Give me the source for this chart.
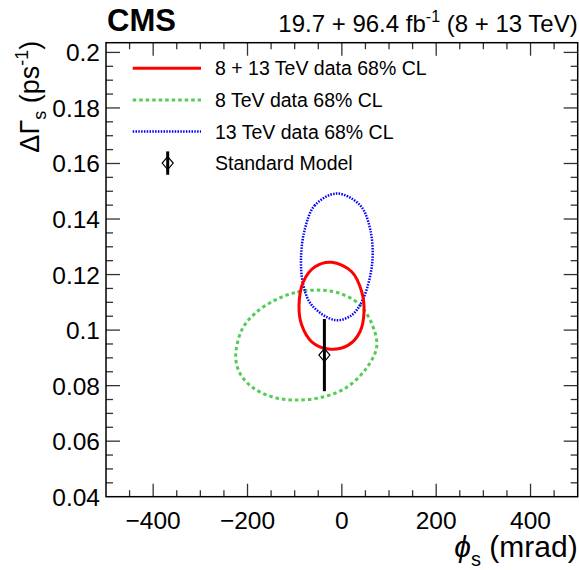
<!DOCTYPE html>
<html>
<head>
<meta charset="utf-8">
<script src="https://cdn.jsdelivr.net/npm/d3@7"></script>
<style>
  body { margin: 0; background: #fff; }
  text { font-family: 'Liberation Sans', Arial, Helvetica, sans-serif; fill: #000; }
</style>
</head>
<body>
<div id="chart"></div>
<script>
// contour points: [phi_s (mrad), delta Gamma_s (ps^-1)]
var combinedContour = [
  [-21.5, 0.1244], [20.9, 0.1210], [42.1, 0.1138], [47.0, 0.1066],
  [38.5, 0.0994], [13.7, 0.0946], [-28.7, 0.0932], [-63.9, 0.0958],
  [-85.1, 0.1018], [-90.8, 0.1090], [-81.7, 0.1174], [-56.9, 0.1228]
]
var run1Contour = [
  [-49.9, 0.1144], [-99.3, 0.1135], [-141.7, 0.1108], [-184.1, 0.1060],
  [-212.3, 0.1000], [-225.0, 0.0904], [-215.9, 0.0844], [-191.1, 0.0796],
  [-148.7, 0.0760], [-99.3, 0.0748], [-42.7, 0.0758], [6.7, 0.0790],
  [49.1, 0.0856], [73.9, 0.0940], [63.3, 0.1024], [34.9, 0.1096],
  [-7.5, 0.1134]
]
var run2Contour = [
  [-10.9, 0.1492], [-56.9, 0.1450], [-78.1, 0.1366], [-86.6, 0.1258],
  [-81.7, 0.1162], [-63.9, 0.1090], [-14.5, 0.1036], [20.9, 0.1054],
  [45.5, 0.1114], [64.6, 0.1246], [59.7, 0.1366], [38.5, 0.1450]
]
// standard model prediction
var smPhi = -37
var smGamma = 0.091
var smGammaErr = 0.013

var xTicks = [-400, -200, 0, 200, 400]
var yTicks = [0.04, 0.06, 0.08, 0.1, 0.12, 0.14, 0.16, 0.18, 0.2]
var legendLabels = ['8 + 13 TeV data 68% CL', '8 TeV data 68% CL', '13 TeV data 68% CL', 'Standard Model']

var width = 579
var height = 570
var margin = { top: 42.7, right: 1.3, bottom: 73.3, left: 106 }

var svg = d3
  .select('#chart')
  .append('svg')
  .attr('width', width)
  .attr('height', height)

var x = d3
  .scaleLinear()
  .domain([-500, 500])
  .range([margin.left, width - margin.right])

var y = d3
  .scaleLinear()
  .domain([0.04, 0.2035])
  .range([height - margin.bottom, margin.top])

var x0 = x.range()[0]
var x1 = x.range()[1]
var y0 = y.range()[0]
var y1 = y.range()[1]

// ticks on all four sides
var ticks = svg.append('g').attr('stroke', '#333').attr('stroke-width', 1.3)
d3.range(-450, 500, 50).forEach(v => {
  var len = v % 200 === 0 ? 13 : 6.5
  ticks.append('line').attr('x1', x(v)).attr('x2', x(v)).attr('y1', y0).attr('y2', y0 - len)
  ticks.append('line').attr('x1', x(v)).attr('x2', x(v)).attr('y1', y1).attr('y2', y1 + len)
})
d3.range(0.045, 0.2031, 0.005).forEach(v => {
  var major = Math.abs(Math.round(v * 100) - v * 100) < 1e-6 && Math.round(v * 100) % 2 === 0
  var len = major ? 14 : 7
  ticks.append('line').attr('x1', x0).attr('x2', x0 + len).attr('y1', y(v)).attr('y2', y(v))
  ticks.append('line').attr('x1', x1).attr('x2', x1 - len).attr('y1', y(v)).attr('y2', y(v))
})

// frame
svg
  .append('rect')
  .attr('x', x0)
  .attr('y', y1)
  .attr('width', x1 - x0)
  .attr('height', y0 - y1)
  .attr('fill', 'none')
  .attr('stroke', '#000')
  .attr('stroke-width', 1.5)

// tick labels
svg
  .selectAll('.xlab')
  .data(xTicks)
  .enter()
  .append('text')
  .attr('x', d => x(d))
  .attr('y', y0 + 32)
  .attr('text-anchor', 'middle')
  .style('font-size', '24.5px')
  .text(d => (d < 0 ? '\u2212' + Math.abs(d) : d))

svg
  .selectAll('.ylab')
  .data(yTicks)
  .enter()
  .append('text')
  .attr('x', x0 - 6)
  .attr('y', d => y(d) + 9)
  .attr('text-anchor', 'end')
  .style('font-size', '24.5px')
  .text(d => d3.format('~g')(d))

// axis titles
var xTitle = svg
  .append('text')
  .attr('x', x1)
  .attr('y', 557)
  .attr('text-anchor', 'end')
  .style('font-size', '30px')
xTitle.append('tspan').style('font-style', 'italic').text('\u03d5')
xTitle.append('tspan').attr('dy', 9).style('font-size', '20px').text('s')
xTitle.append('tspan').attr('dy', -9).text(' (mrad)')

var yTitle = svg
  .append('text')
  .attr('transform', 'translate(39,' + (y1 - 2) + ') rotate(-90)')
  .attr('text-anchor', 'end')
  .style('font-size', '27px')
yTitle.append('tspan').text('\u0394\u0393')
yTitle.append('tspan').attr('dy', 7).style('font-size', '18px').text('s')
yTitle.append('tspan').attr('dy', -7).text(' (ps')
yTitle.append('tspan').attr('dy', -11).style('font-size', '18px').text('-1')
yTitle.append('tspan').attr('dy', 11).text(')')

// header
svg
  .append('text')
  .attr('x', x0 + 1)
  .attr('y', 31)
  .style('font-size', '31px')
  .style('font-weight', 'bold')
  .text('CMS')

var lumi = svg
  .append('text')
  .attr('x', x1)
  .attr('y', 32)
  .attr('text-anchor', 'end')
  .style('font-size', '24px')
lumi.append('tspan').text('19.7 + 96.4 fb')
lumi.append('tspan').attr('dy', -10).style('font-size', '16px').text('-1')
lumi.append('tspan').attr('dy', 10).text(' (8 + 13 TeV)')

// contours
var line = d3
  .line()
  .x(d => x(d[0]))
  .y(d => y(d[1]))
  .curve(d3.curveCatmullRomClosed)

var styles = [
  { color: '#ff0000', width: 3, dash: null },
  { color: '#55cc55', width: 3, dash: '3.5,3' },
  { color: '#0000ff', width: 2.5, dash: '1.5,1.3' }
]
var contours = [combinedContour, run1Contour, run2Contour]

// draw order: 8 TeV, 13 TeV, then combined on top
;[1, 2, 0].forEach(i => {
  svg
    .append('path')
    .datum(contours[i])
    .attr('d', line)
    .attr('fill', 'none')
    .attr('stroke', styles[i].color)
    .attr('stroke-width', styles[i].width)
    .attr('stroke-dasharray', styles[i].dash)
})

// standard model marker
function drawSM (g, cx, cy, top, bottom) {
  g.append('line')
    .attr('x1', cx).attr('x2', cx)
    .attr('y1', top).attr('y2', bottom)
    .attr('stroke', '#000')
    .attr('stroke-width', 3)
  g.append('path')
    .attr('d', 'M' + cx + ',' + (cy - 6.5) + 'L' + (cx + 5.5) + ',' + cy + 'L' + cx + ',' + (cy + 6.5) + 'L' + (cx - 5.5) + ',' + cy + 'Z')
    .attr('fill', 'none')
    .attr('stroke', '#000')
    .attr('stroke-width', 1.2)
}
drawSM(svg, x(smPhi), y(smGamma), y(smGamma + smGammaErr), y(smGamma - smGammaErr))

// legend
var legend = svg.append('g')
legendLabels.forEach((label, i) => {
  var ly = 68.3 + i * 31.6
  if (i < 3) {
    legend
      .append('line')
      .attr('x1', 132.7)
      .attr('x2', 201)
      .attr('y1', ly)
      .attr('y2', ly)
      .attr('stroke', styles[i].color)
      .attr('stroke-width', styles[i].width)
      .attr('stroke-dasharray', styles[i].dash)
  } else {
    drawSM(legend, 167.7, ly, ly - 11.7, ly + 11.7)
  }
  legend
    .append('text')
    .attr('x', 215)
    .attr('y', ly + 7)
    .style('font-size', '19.5px')
    .text(label)
})
</script>
</body>
</html>
